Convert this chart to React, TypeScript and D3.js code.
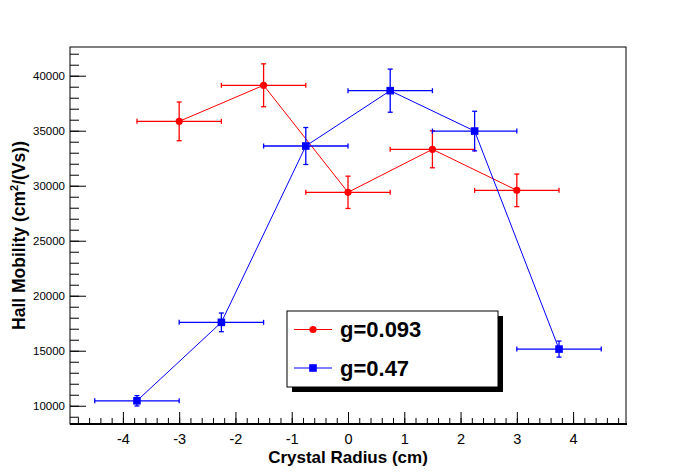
import { useEffect, useRef } from 'react';
import * as d3 from 'd3';

// Crystal radius (cm) and Hall mobility for the two g values
const redX = [-3, -1.5, 0, 1.5, 3];
const redY = [35850, 39130, 29400, 33310, 29580];
const redErrY = [1760, 1950, 1470, 1680, 1480];

const blueX = [-3.75, -2.25, -0.75, 0.75, 2.25, 3.75];
const blueY = [10450, 17580, 33610, 38640, 34970, 15150];
const blueErrY = [470, 850, 1680, 1960, 1800, 730];

const errX = 0.75;

const xTicks = [-4, -3, -2, -1, 0, 1, 2, 3, 4];
const yTicks = [10000, 15000, 20000, 25000, 30000, 35000, 40000];

const legendLabels = ['g=0.093', 'g=0.47'];

const FONT = '"Liberation Sans", Arial, Helvetica, sans-serif';

interface Pt { x: number; y: number; ey: number }

export default function App() {
    const svgRef = useRef<SVGSVGElement>(null);

    useEffect(() => {
        if (!svgRef.current) return;
        const svg = d3.select(svgRef.current);
        svg.selectAll('*').remove();

        const left = 70, right = 626, top = 47, bottom = 424;

        const x = d3.scaleLinear().domain([-4.94, 4.94]).range([left, right]);
        const y = d3.scaleLinear().domain([8340, 42610]).range([bottom, top]);

        svg.append('rect').attr('width', 696).attr('height', 472).attr('fill', 'white');

        // cadre
        svg.append('rect')
            .attr('x', left).attr('y', top)
            .attr('width', right - left).attr('height', bottom - top)
            .attr('fill', 'none').attr('stroke', 'black').attr('stroke-width', 1);

        // axe x (graduations vers l'intérieur)
        const xMinor = d3.range(-4.8, 4.95, 0.2).map(v => Math.round(v * 10) / 10);
        const gx = svg.append('g').attr('transform', `translate(0,${bottom})`);
        gx.call(d3.axisBottom(x).tickValues(xMinor).tickSize(-6).tickSizeOuter(0).tickFormat(() => ''));
        gx.select('.domain').remove();
        const gx2 = svg.append('g').attr('transform', `translate(0,${bottom})`);
        gx2.call(d3.axisBottom(x).tickValues(xTicks).tickSize(-12).tickSizeOuter(0).tickPadding(10).tickFormat(d => String(d)));
        gx2.select('.domain').remove();
        gx2.selectAll('text').attr('font-family', FONT).attr('font-size', 14.5).attr('fill', 'black');
        svg.append('line')
            .attr('x1', left).attr('x2', right + 1).attr('y1', bottom).attr('y2', bottom)
            .attr('stroke', 'black').attr('stroke-width', 2);

        // axe y
        const yMinor = d3.range(9000, 42001, 1000);
        const gy = svg.append('g').attr('transform', `translate(${left},0)`);
        gy.call(d3.axisLeft(y).tickValues(yMinor).tickSize(-9).tickSizeOuter(0).tickFormat(() => ''));
        gy.select('.domain').remove();
        const gy2 = svg.append('g').attr('transform', `translate(${left},0)`);
        gy2.call(d3.axisLeft(y).tickValues(yTicks).tickSize(-16).tickSizeOuter(0).tickPadding(5).tickFormat(d => String(d)));
        gy2.select('.domain').remove();
        gy2.selectAll('text').attr('font-family', FONT).attr('font-size', 11.5).attr('fill', 'black');
        svg.selectAll('.tick line').attr('stroke', 'black');

        // titres
        svg.append('text')
            .attr('x', (left + right) / 2).attr('y', 463)
            .attr('text-anchor', 'middle')
            .attr('font-family', FONT).attr('font-weight', 'bold').attr('font-size', 17)
            .text('Crystal Radius (cm)');

        const yt = svg.append('text')
            .attr('transform', `translate(25,${(top + bottom) / 2}) rotate(-90)`)
            .attr('text-anchor', 'middle')
            .attr('font-family', FONT).attr('font-weight', 'bold').attr('font-size', 17.5);
        yt.append('tspan').text('Hall Mobility (cm');
        yt.append('tspan').attr('font-size', 11).attr('dy', -7).text('2');
        yt.append('tspan').attr('dy', 7).text('/(Vs))');

        const series = [
            { color: '#ff0000', shape: 'circle', pts: redX.map((v, i) => ({ x: v, y: redY[i], ey: redErrY[i] })) },
            { color: '#0000ff', shape: 'square', pts: blueX.map((v, i) => ({ x: v, y: blueY[i], ey: blueErrY[i] })) }
        ];

        const line = d3.line<Pt>().x(d => x(d.x)).y(d => y(d.y));

        series.forEach(s => {
            const g = svg.append('g');
            g.append('path')
                .datum(s.pts)
                .attr('fill', 'none').attr('stroke', s.color).attr('stroke-width', 1)
                .attr('d', line);

            s.pts.forEach(p => {
                const cx = x(p.x), cy = y(p.y);
                const x0 = x(p.x - errX), x1 = x(p.x + errX);
                const y0 = y(p.y + p.ey), y1 = y(p.y - p.ey);
                const segs: [number, number, number, number][] = [
                    [x0, cy, x1, cy],
                    [cx, y0, cx, y1],
                    [x0, cy - 2.5, x0, cy + 2.5],
                    [x1, cy - 2.5, x1, cy + 2.5],
                    [cx - 2.5, y0, cx + 2.5, y0],
                    [cx - 2.5, y1, cx + 2.5, y1]
                ];
                segs.forEach(([a, b, c, d]) => {
                    g.append('line')
                        .attr('x1', a).attr('y1', b).attr('x2', c).attr('y2', d)
                        .attr('stroke', s.color).attr('stroke-width', 1.3);
                });
                if (s.shape === 'circle') {
                    g.append('circle').attr('cx', cx).attr('cy', cy).attr('r', 3.6).attr('fill', s.color);
                } else {
                    g.append('rect').attr('x', cx - 3.8).attr('y', cy - 3.8)
                        .attr('width', 7.6).attr('height', 7.6).attr('fill', s.color);
                }
            });
        });

        // légende avec ombre portée
        const lx = 287, ly = 311, lw = 211, lh = 76;
        svg.append('rect').attr('x', lx + 5).attr('y', ly + 5).attr('width', lw).attr('height', lh).attr('fill', 'black');
        svg.append('rect').attr('x', lx).attr('y', ly).attr('width', lw).attr('height', lh)
            .attr('fill', 'white').attr('stroke', 'black').attr('stroke-width', 1);

        series.forEach((s, i) => {
            const ry = ly + 18.5 + i * 38.5;
            svg.append('line').attr('x1', lx + 7).attr('x2', lx + 45).attr('y1', ry).attr('y2', ry)
                .attr('stroke', s.color).attr('stroke-width', 1);
            if (s.shape === 'circle') {
                svg.append('circle').attr('cx', lx + 26).attr('cy', ry).attr('r', 3.6).attr('fill', s.color);
            } else {
                svg.append('rect').attr('x', lx + 22.2).attr('y', ry - 3.8).attr('width', 7.6).attr('height', 7.6).attr('fill', s.color);
            }
            svg.append('text')
                .attr('x', lx + 53).attr('y', ry + 7.8)
                .attr('font-family', FONT).attr('font-weight', 'bold').attr('font-size', 22)
                .text(legendLabels[i]);
        });
    }, []);

    return (
        <svg
            ref={svgRef}
            width="696"
            height="472"
            style={{ position: 'absolute', left: 0, top: 0 }}
        />
    );
}
